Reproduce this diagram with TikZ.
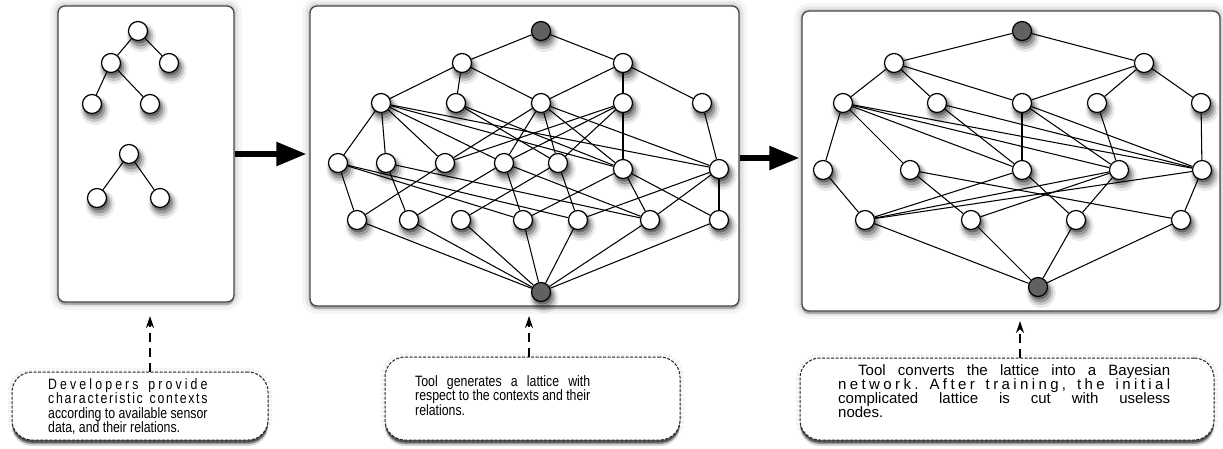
\documentclass[tikz,border=0pt]{standalone}
\usepackage{fontspec}
\setmainfont{Liberation Sans}[FakeStretch=0.82]
\newfontfamily\widefont{Liberation Sans}
\usetikzlibrary{arrows.meta,shadows}
\pgfdeclarelayer{bg}
\pgfdeclarelayer{edges}
\pgfsetlayers{bg,edges,main}
\newlength\wL \newlength\wM
\newcommand\cfont{\fontsize{15}{14.5}\selectfont}
\newcommand\rfont{\widefont\fontsize{15}{14}\selectfont}
\def\lsp#1{\lsploop#1\relax}
\def\lsploop#1{\ifx#1\relax\else#1\hfil\expandafter\lsploop\fi}
\begin{document}
\settowidth{\wL}{\cfont according to available sensor}%
\settowidth{\wM}{\cfont respect to the contexts and their}%
\begin{tikzpicture}[x=1pt,y=-1pt,
  nd/.style={circle,draw=black,line width=1.2pt,fill=white,minimum size=19pt,inner sep=0pt,
     drop shadow={shadow xshift=2pt,shadow yshift=-4pt,shadow scale=1.55,opacity=0.08,fill=black},
     drop shadow={shadow xshift=2pt,shadow yshift=-4pt,shadow scale=1.35,opacity=0.14,fill=black},
     drop shadow={shadow xshift=2pt,shadow yshift=-4pt,shadow scale=1.15,opacity=0.22,fill=black},
     drop shadow={shadow xshift=1.5pt,shadow yshift=-3pt,shadow scale=1.0,opacity=0.3,fill=black}},
  dk/.style={nd,fill=black!62},
  ed/.style={line width=1.05pt},
  panel/.style={draw=black!72,line width=1.3pt,rounded corners=7pt,fill=white,inner sep=0pt,
     preaction={draw=black,opacity=0.04,line width=16pt},
     preaction={draw=black,opacity=0.06,line width=9pt},
     preaction={draw=black,opacity=0.08,line width=4pt},
     drop shadow={shadow xshift=0pt,shadow yshift=-3pt,opacity=0.22,fill=black}},
  callout/.style={draw=black!85,line width=1pt,dash pattern=on 3pt off 1.5pt,rounded corners=20pt,fill=white,inner sep=0pt,
     preaction={draw=black,opacity=0.05,line width=8pt},
     drop shadow={shadow xshift=0pt,shadow yshift=-6pt,opacity=0.15,fill=black},
     drop shadow={shadow xshift=0pt,shadow yshift=-4pt,opacity=0.3,fill=black},
     drop shadow={shadow xshift=0pt,shadow yshift=-2.5pt,opacity=0.45,fill=black}},
  conn/.style={line width=1.3pt,dash pattern=on 9pt off 6pt,-{Stealth[length=12pt,width=8pt]}},
  bigarrow/.style={line width=5.5pt,-{Triangle[length=30pt,width=23pt]}},
  txt/.style={font=\cfont,inner sep=0pt,anchor=north west,align=left}
]
\useasboundingbox (0,0) rectangle (1223,448);
\begin{pgfonlayer}{bg}
\fill[white] (0,0) rectangle (1223,448);
\node[panel,minimum width=176pt,minimum height=296pt] (lp) at (146,154) {};
\node[panel,minimum width=429pt,minimum height=300pt] (mp) at (524.5,156) {};
\node[panel,minimum width=418pt,minimum height=300pt] (rp) at (1011,161) {};
\node[callout,minimum width=256pt,minimum height=68pt] (cL) at (140,406) {};
\node[callout,minimum width=295pt,minimum height=83pt] (cM) at (532.5,398.5) {};
\node[callout,minimum width=414pt,minimum height=82pt] (cR) at (1007,399) {};
\end{pgfonlayer}

% left trees
\node[nd] (a) at (138,31) {};
\node[nd] (b) at (111,63) {};
\node[nd] (c) at (169,63) {};
\node[nd] (d) at (92,104) {};
\node[nd] (e) at (150,104) {};
\node[nd] (f) at (129,154) {};
\node[nd] (g) at (97,198) {};
\node[nd] (h) at (160,198) {};

% middle lattice
\node[dk] (mT) at (541,31) {};
\node[nd] (m1a) at (462,63) {};
\node[nd] (m1b) at (623,63) {};
\node[nd] (m2a) at (381,103) {};
\node[nd] (m2b) at (456,103) {};
\node[nd] (m2c) at (541,103) {};
\node[nd] (m2d) at (623,103) {};
\node[nd] (m2e) at (702,103) {};
\node[nd] (m3a) at (338,163) {};
\node[nd] (m3b) at (386,163) {};
\node[nd] (m3c) at (445,163) {};
\node[nd] (m3d) at (504,163) {};
\node[nd] (m3e) at (558,163) {};
\node[nd] (m3f) at (623,169) {};
\node[nd] (m3g) at (719,169) {};
\node[nd] (m4a) at (357,220) {};
\node[nd] (m4b) at (409,220) {};
\node[nd] (m4c) at (461,220) {};
\node[nd] (m4d) at (523,220) {};
\node[nd] (m4e) at (578,220) {};
\node[nd] (m4f) at (650,220) {};
\node[nd] (m4g) at (719,220) {};
\node[dk] (mB) at (541,292) {};

% right lattice
\node[dk] (rT) at (1022,31) {};
\node[nd] (r1a) at (894,63) {};
\node[nd] (r1b) at (1144,63) {};
\node[nd] (r2a) at (843,103) {};
\node[nd] (r2b) at (937,103) {};
\node[nd] (r2c) at (1022,103) {};
\node[nd] (r2d) at (1097,103) {};
\node[nd] (r2e) at (1201,103) {};
\node[nd] (r3a) at (823,170) {};
\node[nd] (r3b) at (910,170) {};
\node[nd] (r3c) at (1022,170) {};
\node[nd] (r3d) at (1119,170) {};
\node[nd] (r3e) at (1202,170) {};
\node[nd] (r4a) at (865,220) {};
\node[nd] (r4b) at (971,220) {};
\node[nd] (r4c) at (1076,220) {};
\node[nd] (r4d) at (1181,220) {};
\node[dk] (rB) at (1038,287) {};

\begin{pgfonlayer}{edges}
\foreach \p/\q in {a/b,a/c,b/d,b/e,f/g,f/h,
  mT/m1a,mT/m1b,m1a/m2a,m1a/m2b,m1a/m2c,m1b/m2c,m1b/m2d,m1b/m2e,
  m2a/m3a,m2a/m3b,m2a/m3c,m2a/m3d,m2a/m3f,m2a/m3g,
  m2b/m3e,m2b/m3f,
  m2c/m3c,m2c/m3d,m2c/m3e,m2c/m3f,m2c/m3g,
  m2d/m3c,m2d/m3d,m2d/m3e,m2d/m3f,
  m2e/m3g,
  m3a/m4a,m3a/m4d,m3a/m4e,
  m3b/m4b,m3b/m4f,
  m3c/m4a,
  m3d/m4b,m3d/m4d,m3d/m4f,
  m3e/m4c,m3e/m4e,
  m3f/m4d,m3f/m4f,m3f/m4g,
  m3g/m4e,m3g/m4f,m3g/m4g,
  m4a/mB,m4b/mB,m4c/mB,m4d/mB,m4e/mB,m4f/mB,m4g/mB,
  rT/r1a,rT/r1b,r1a/r2a,r1a/r2b,r1a/r2c,r1b/r2c,r1b/r2d,r1b/r2e,
  r2a/r3a,r2a/r3b,r2a/r3c,r2a/r3d,r2a/r3e,
  r2b/r3c,r2b/r3e,
  r2c/r3c,r2c/r3d,r2c/r3e,
  r2d/r3d,r2e/r3e,
  r3a/r4a,r3b/r4b,r3b/r4d,r3c/r4a,r3c/r4c,
  r3d/r4a,r3d/r4b,r3d/r4c,r3e/r4a,r3e/r4d,
  r4a/rB,r4b/rB,r4c/rB,r4d/rB}
  \draw[ed] (\p) -- (\q);
\end{pgfonlayer}

% big arrows
\draw[bigarrow,shorten >=3pt] (lp.east) -- (lp.east -| mp.west);
\draw[bigarrow,shorten >=2pt] ([yshift=-2pt]mp.east) -- ([yshift=-2pt]mp.east -| rp.west);

% callout connectors
\coordinate (tipL) at (150,316);
\coordinate (tipM) at (529,316);
\coordinate (tipR) at (1020,321);
\draw[conn] (cL.north -| tipL) -- (tipL);
\draw[conn] (cM.north -| tipM) -- (tipM);
\draw[conn] (cR.north -| tipR) -- (tipR);

% texts
\node[txt] (txL) at (48,378) {\hbox to \wL{\lsp{Developers~provide}\unskip}\\
  \hbox to \wL{\lsp{characteristic~contexts}\unskip}\\
  according to available sensor\\
  data, and their relations.};
\node[txt] (txM) at (415,375) {\makebox[\wM][s]{Tool generates a lattice with}\\
  respect to the contexts and their\\
  relations.};
\node[txt,font=\rfont] (txR) at (838,364) {\hbox to 332pt{\hspace*{20pt}\makebox[312pt][s]{Tool converts the lattice into a Bayesian}}\\
  \hbox to 332pt{\lsp{network.~After~training,~the~initial}\unskip}\\
  \makebox[332pt][s]{complicated lattice is cut with useless}\\
  nodes.};
\end{tikzpicture}
\end{document}
